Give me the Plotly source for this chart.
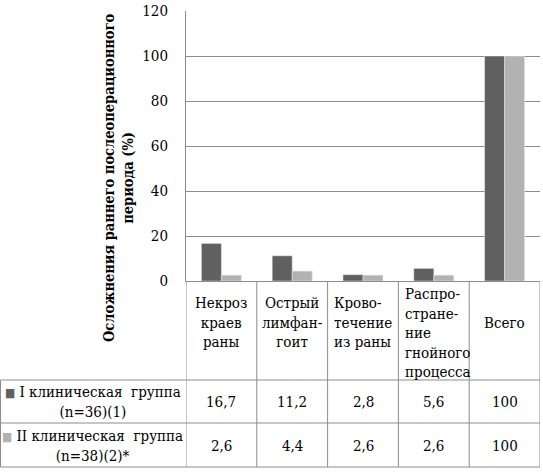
import plotly.graph_objects as go

# data
categories = ["Некроз<br>краев<br>раны", "Острый<br>лимфан-<br>гоит", "Крово-<br>течение<br>из раны",
              "Распро-<br>стране-<br>ние<br>гнойного<br>процесса", "Всего"]
group1_name = "I клиническая  группа<br>(n=36)(1)"
group2_name = "II клиническая  группа<br>(n=38)(2)*"
group1 = [16.7, 11.2, 2.8, 5.6, 100]
group2 = [2.6, 4.4, 2.6, 2.6, 100]
y_ticks = [0, 20, 40, 60, 80, 100, 120]

c1 = "#606060"
c2 = "#b2b2b2"
grid = "#8c8c8c"
font = "DejaVu Serif Condensed, DejaVu Serif"

W, H = 543, 472
L, R, T, B = 186, 3, 11, 191
ph = H - T - B  # plot height in px


def py(p):
    # pixel row -> paper y
    return (H - B - p) / ph


def px(p):
    return (p - L) / (W - L - R)


x = list(range(len(categories)))

fig = go.Figure()
fig.add_trace(go.Bar(x=x, y=group1, marker_color=c1, name="I"))
fig.add_trace(go.Bar(x=x, y=group2, marker_color=c2, name="II"))

shapes = []
line = dict(color=grid, width=1)
# header row verticals
for i in range(len(categories) + 1):
    shapes.append(dict(type="line", xref="x", yref="paper", x0=i - 0.5, x1=i - 0.5,
                       y0=0, y1=py(467) if i in (0, len(categories)) else py(380), line=line))
# value rows inner verticals
for i in range(1, len(categories)):
    shapes.append(dict(type="line", xref="x", yref="paper", x0=i - 0.5, x1=i - 0.5,
                       y0=py(380), y1=py(467), line=line))
# left column verticals + horizontals
shapes.append(dict(type="line", xref="paper", yref="paper", x0=px(0.5), x1=px(0.5),
                   y0=py(380), y1=py(467), line=line))
for yy in (380, 423, 467):
    shapes.append(dict(type="line", xref="paper", yref="paper", x0=px(0.5), x1=1,
                       y0=py(yy), y1=py(yy), line=line))

tf = dict(size=15, family=font, color="black")
ann = []
# category header labels
for i, c in enumerate(categories):
    left = i in (2, 3)
    ann.append(dict(x=i - 0.5 + (0.06 if left else 0.5), xref="x", y=py(333 if i == 3 else 323), yref="paper",
                    text=c, showarrow=False, xanchor="left" if left else "center", yanchor="middle",
                    align="left" if left else "center", font=tf))
# values
for i in x:
    ann.append(dict(x=i, xref="x", y=py(402), yref="paper", text=f"{group1[i]:g}".replace(".", ","),
                    showarrow=False, xanchor="center", yanchor="middle", font=tf))
    ann.append(dict(x=i, xref="x", y=py(446), yref="paper", text=f"{group2[i]:g}".replace(".", ","),
                    showarrow=False, xanchor="center", yanchor="middle", font=tf))
# legend cells
for name, col, yy in ((group1_name, c1, 402), (group2_name, c2, 446)):
    ann.append(dict(x=px(93), xref="paper", y=py(yy), yref="paper", xanchor="center", yanchor="middle",
                    text=f'<span style="color:{col};font-size:12px">■</span> {name}', showarrow=False,
                    align="center", font=tf))
# y axis title
ann.append(dict(x=px(118), xref="paper", y=py(178), yref="paper", textangle=-90, showarrow=False,
                xanchor="center", yanchor="middle",
                text="<b>Осложнения раннего послеоперационного<br>периода (%)</b>",
                font=dict(size=14.5, family=font, color="black")))

fig.update_layout(
    width=W, height=H,
    margin=dict(l=L, r=R, t=T, b=B),
    paper_bgcolor="white", plot_bgcolor="white",
    barmode="group", bargap=0.435, bargroupgap=0,
    showlegend=False,
    font=dict(family=font, size=15, color="black"),
    shapes=shapes, annotations=ann,
    xaxis=dict(range=[-0.5, len(categories) - 0.5], showticklabels=False, showgrid=False,
               zeroline=False, showline=True, linecolor=grid, linewidth=1, fixedrange=True),
    yaxis=dict(range=[0, 120], tickvals=y_ticks, showgrid=True, gridcolor=grid, gridwidth=1,
               zeroline=False, showline=True, linecolor=grid, linewidth=1, ticks="",
               ticklabelstandoff=14, tickfont=tf),
)

fig.write_html("out.html", config={"displayModeBar": False},
               post_script="document.body.style.margin='0';")
